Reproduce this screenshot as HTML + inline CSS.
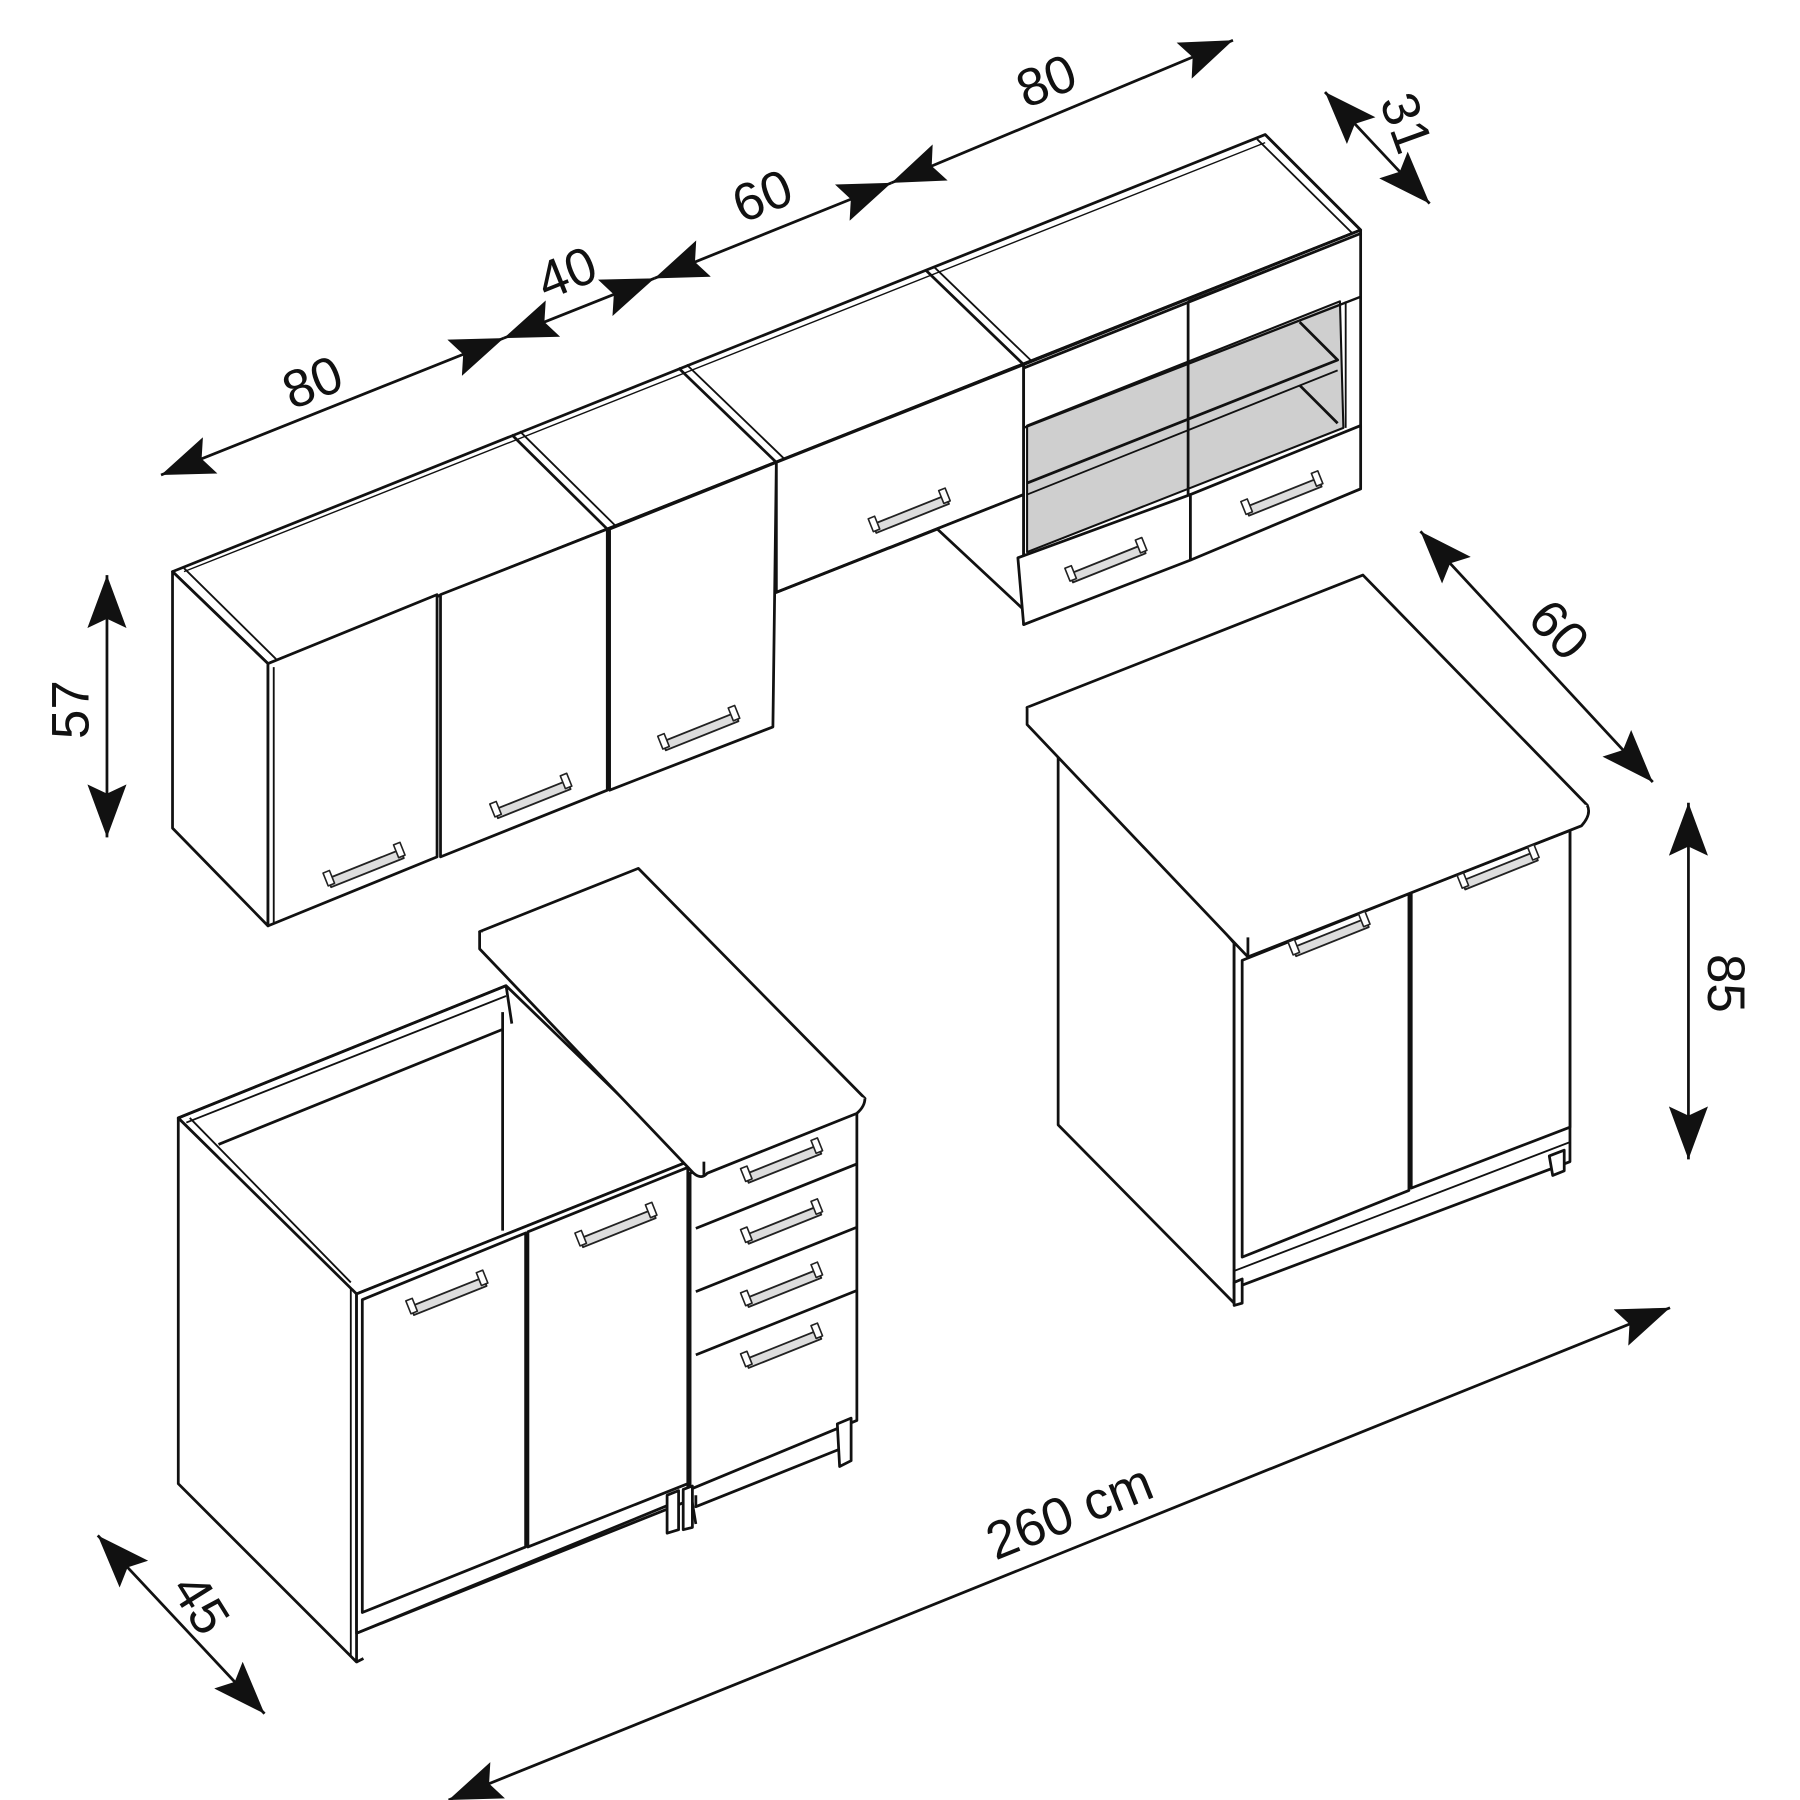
<!DOCTYPE html>
<html><head><meta charset="utf-8"><style>
html,body{margin:0;padding:0;background:#fff;}
svg{display:block;}
text{font-family:"Liberation Sans","DejaVu Sans",sans-serif;font-size:46px;fill:#111;}
</style></head><body>
<svg width="1800" height="1800" viewBox="0 0 1565 1565" xmlns="http://www.w3.org/2000/svg">
<defs>
<marker id="ah" viewBox="0 0 46 34" refX="46" refY="17" markerWidth="46" markerHeight="34" markerUnits="userSpaceOnUse" orient="auto-start-reverse">
<path d="M0,0 L46,17 L0,34 L8,17 Z" fill="#111"/>
</marker>
<g id="hd">
<rect x="-34" y="-4" width="68" height="8" fill="#ddd" stroke="#222" stroke-width="1.6"/>
<rect x="-36" y="-10" width="6" height="12" fill="#fff" stroke="#222" stroke-width="1.4"/>
<rect x="30" y="-10" width="6" height="12" fill="#fff" stroke="#222" stroke-width="1.4"/>
</g>
</defs>
<g fill="#fff" stroke="#111" stroke-width="2.4" stroke-linejoin="round">

<!-- ===== UPPER CABINETS ===== -->
<polygon points="150,497 1100,117 1183,200 233,577"/>
<line x1="160" y1="497" x2="1100" y2="124" stroke-width="1.2"/>
<polyline points="233,577 1183,200" />
<line x1="150" y1="497" x2="233" y2="577" />
<line x1="160" y1="494" x2="240" y2="573" stroke-width="1.6"/>
<line x1="1100" y1="117" x2="1183" y2="200"/>
<line x1="1093" y1="121" x2="1176" y2="203" stroke-width="1.6"/>
<line x1="445" y1="378" x2="528" y2="460"/><line x1="452" y1="375" x2="535" y2="457" stroke-width="1.6"/>
<line x1="590" y1="320" x2="675" y2="402"/><line x1="597" y1="317" x2="682" y2="399" stroke-width="1.6"/>
<line x1="805" y1="235" x2="890" y2="317"/><line x1="812" y1="232" x2="897" y2="314" stroke-width="1.6"/>
<polygon points="150,497 233,577 233,805 150,720"/>
<polygon points="233,577 380,517 380,745 233,805"/>
<line x1="238" y1="580" x2="238" y2="803" stroke-width="1.6"/>
<polygon points="383,517 528,460 528,687 383,745"/>
<polygon points="530,460 675,402 672,632 530,687"/>
<polygon points="675,402 890,317 890,430 675,515"/>
<polygon points="675,515 815,460 890,530 890,430" />
<polygon points="890,317 1183,200 1183,425 890,543"/>
<polygon points="893,370 1165,262 1168,372 893,480" fill="#cfcfcf" stroke-width="1.8"/>
<polyline points="1130,280 1163,313 893,420" fill="none"/>
<polyline points="893,430 1163,322" fill="none" stroke-width="1.6"/>
<polyline points="1130,335 1163,368" fill="none"/>
<line x1="1033" y1="262" x2="1033" y2="432"/>
<line x1="1033" y1="262" x2="1183" y2="203" stroke-width="1.6"/>
<line x1="890" y1="320" x2="1183" y2="203"/>
<line x1="890" y1="372" x2="1183" y2="258" stroke-width="2"/>
<line x1="1170" y1="262" x2="1170" y2="372" stroke-width="1.6"/>
<polygon points="885,485 1035,430 1035,487 890,543"/>
<polygon points="1035,430 1183,370 1183,425 1035,487"/>
<use href="#hd" transform="translate(963,490) rotate(-21.8)"/>
<use href="#hd" transform="translate(1116,432) rotate(-21.8)"/>
<use href="#hd" transform="translate(792,447) rotate(-21.8)"/>
<use href="#hd" transform="translate(318,755) rotate(-21.8)"/>
<use href="#hd" transform="translate(463,695) rotate(-21.8)"/>
<use href="#hd" transform="translate(609,636) rotate(-21.8)"/>

<!-- ===== RIGHT BASE CABINET ===== -->
<polygon points="920,640 1073,820 1073,1133 920,978"/>
<polygon points="1073,820 1365,710 1365,1010 1073,1120"/>
<polygon points="1080,835 1225,777 1225,1035 1080,1093"/>
<polygon points="1227,776 1365,722 1365,980 1227,1033"/>
<line x1="1073" y1="1105" x2="1365" y2="993" stroke-width="1.6"/>
<polygon points="1073,1115 1080,1112 1080,1133 1073,1135"/>
<polygon points="1347,1005 1360,1000 1360,1018 1350,1022"/>
<polygon points="893,615 1185,500 1380,700 1085,815"/>
<path d="M893,615 L893,630 L1085,832 L1375,718 Q1384,708 1380,700" fill="#fff"/>
<line x1="1085" y1="815" x2="1085" y2="832"/>
<use href="#hd" transform="translate(1157,815) rotate(-21.8)"/>
<use href="#hd" transform="translate(1304,757) rotate(-21.8)"/>

<!-- ===== LEFT BASE (SINK) ===== -->
<polygon points="155,972 440,857 598,1010 310,1125"/>
<polygon points="190,995 437,900 437,1070 190,1165" fill="#fff" stroke="none"/>
<polyline points="190,995 437,895" fill="none"/>
<line x1="437" y1="880" x2="437" y2="1070"/>
<line x1="155" y1="972" x2="440" y2="857"/>
<line x1="162" y1="976" x2="440" y2="866" stroke-width="1.6"/>
<line x1="440" y1="857" x2="445" y2="890"/>
<polygon points="155,972 310,1125 310,1445 155,1290"/>
<line x1="165" y1="972" x2="305" y2="1115" stroke-width="1.6"/>
<polygon points="310,1125 598,1010 598,1305 310,1420"/>
<polygon points="315,1130 457,1072 457,1345 315,1402"/>
<polygon points="459,1071 598,1015 598,1290 459,1345"/>
<line x1="305" y1="1120" x2="305" y2="1440" stroke-width="1.6"/>
<line x1="310" y1="1420" x2="590" y2="1305"/>
<line x1="310" y1="1445" x2="316" y2="1442"/>
<polygon points="580,1300 590,1296 590,1330 580,1333"/>
<use href="#hd" transform="translate(390,1127) rotate(-21.8)"/>
<use href="#hd" transform="translate(537,1068) rotate(-21.8)"/>

<!-- ===== DRAWER CABINET ===== -->
<polygon points="600,1020 745,962 745,1235 600,1295"/>
<line x1="605" y1="1068" x2="745" y2="1012"/>
<line x1="605" y1="1123" x2="745" y2="1067"/>
<line x1="605" y1="1178" x2="745" y2="1122"/>
<line x1="600" y1="1295" x2="605" y2="1325"/>
<polyline points="605,1300 605,1310 735,1258" fill="none"/>
<polygon points="728,1238 740,1233 740,1270 730,1275"/>
<polygon points="594,1295 602,1292 602,1328 594,1330"/>
<use href="#hd" transform="translate(681,1012) rotate(-21.8)"/>
<use href="#hd" transform="translate(681,1065) rotate(-21.8)"/>
<use href="#hd" transform="translate(681,1120) rotate(-21.8)"/>
<use href="#hd" transform="translate(681,1173) rotate(-21.8)"/>
<polygon points="417,810 555,755 752,955 612,1010"/>
<path d="M417,810 L417,825 L603,1020 Q610,1026 615,1020 L745,968 Q752,962 752,955" fill="#fff"/>
<line x1="612" y1="1010" x2="612" y2="1022"/>
</g>

<!-- ===== DIMENSIONS ===== -->
<g stroke="#111" stroke-width="2.4" fill="none">
<line x1="140" y1="413" x2="438" y2="294" marker-start="url(#ah)" marker-end="url(#ah)"/>
<line x1="438" y1="294" x2="569" y2="242" marker-start="url(#ah)" marker-end="url(#ah)"/>
<line x1="569" y1="242" x2="775" y2="159" marker-start="url(#ah)" marker-end="url(#ah)"/>
<line x1="775" y1="159" x2="1072" y2="35" marker-start="url(#ah)" marker-end="url(#ah)"/>
<line x1="1152" y1="80" x2="1243" y2="177" marker-start="url(#ah)" marker-end="url(#ah)"/>
<line x1="1235" y1="462" x2="1437" y2="680" marker-start="url(#ah)" marker-end="url(#ah)"/>
<line x1="1468" y1="698" x2="1468" y2="1008" marker-start="url(#ah)" marker-end="url(#ah)"/>
<line x1="93" y1="500" x2="93" y2="728" marker-start="url(#ah)" marker-end="url(#ah)"/>
<line x1="85" y1="1335" x2="230" y2="1490" marker-start="url(#ah)" marker-end="url(#ah)"/>
<line x1="390" y1="1565" x2="1452" y2="1137" marker-start="url(#ah)" marker-end="url(#ah)"/>
</g>
<text x="272" y="348" text-anchor="middle" transform="rotate(-21.8 272 333)">80</text>
<text x="493" y="253" text-anchor="middle" transform="rotate(-21.8 493 238)">40</text>
<text x="663" y="186" text-anchor="middle" transform="rotate(-21.8 663 171)">60</text>
<text x="910" y="86" text-anchor="middle" transform="rotate(-21.8 910 71)">80</text>
<text x="1222" y="122" text-anchor="middle" transform="rotate(70 1222 107)">31</text>
<text x="1355" y="563" text-anchor="middle" transform="rotate(47 1355 548)">60</text>
<text x="1500" y="870" text-anchor="middle" transform="rotate(90 1500 855)">85</text>
<text x="62" y="632" text-anchor="middle" transform="rotate(-90 62 617)">57</text>
<text x="174" y="1410" text-anchor="middle" transform="rotate(58 174 1395)">45</text>
<text x="930" y="1330" text-anchor="middle" transform="rotate(-21.8 930 1315)">260 cm</text>
</svg>
</body></html>
